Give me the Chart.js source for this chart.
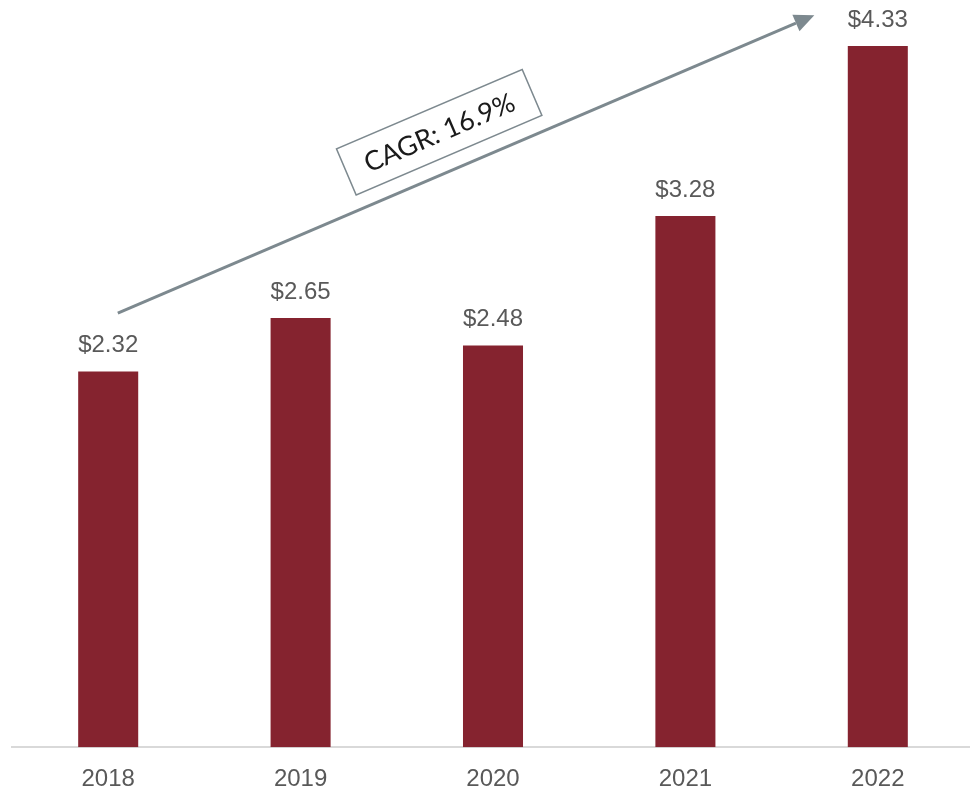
<!DOCTYPE html>
<html>
<head>
<meta charset="utf-8">
<title>Revenue 2018-2022</title>
<script src="https://cdn.jsdelivr.net/npm/chart.js@4/dist/chart.umd.min.js"></script>
<style>
  html, body { margin: 0; padding: 0; background: #fff; overflow: hidden; }
  #wrap { position: relative; width: 976px; height: 792px; }
</style>
</head>
<body>
<div id="wrap"><canvas id="myChart"></canvas></div>
<script>
// data
const years = ['2018', '2019', '2020', '2021', '2022'];
const values = [2.32, 2.65, 2.48, 3.28, 4.33];
const cagrText = 'CAGR: 16.9%';

// arrow endpoints as [category index, value]
const arrowFrom = [0.05, 2.68];
const arrowTo = [3.67, 4.52];

const barColor = '#85232F';
const textColor = '#595959';
const arrowColor = '#7D898F';

// value labels above bars + the CAGR arrow
const overlay = {
  id: 'overlay',
  afterDatasetsDraw(chart) {
    const ctx = chart.ctx;
    const meta = chart.getDatasetMeta(0);
    ctx.save();
    ctx.font = '24px "Liberation Sans", Arial, sans-serif';
    ctx.fillStyle = textColor;
    ctx.textAlign = 'center';
    ctx.textBaseline = 'middle';
    meta.data.forEach((bar, i) => {
      ctx.fillText('$' + values[i].toFixed(2), bar.x, bar.y - 26);
    });

    // arrow
    const xs = chart.scales.x, ys = chart.scales.y;
    const x1 = xs.getPixelForValue(arrowFrom[0]), y1 = ys.getPixelForValue(arrowFrom[1]);
    const x2 = xs.getPixelForValue(arrowTo[0]), y2 = ys.getPixelForValue(arrowTo[1]);
    const ang = Math.atan2(y2 - y1, x2 - x1);
    const headLen = 20, headW = 9;
    ctx.strokeStyle = arrowColor;
    ctx.fillStyle = arrowColor;
    ctx.lineWidth = 3;
    ctx.beginPath();
    ctx.moveTo(x1, y1);
    ctx.lineTo(x2 - Math.cos(ang) * headLen, y2 - Math.sin(ang) * headLen);
    ctx.stroke();
    ctx.translate(x2, y2);
    ctx.rotate(ang);
    ctx.beginPath();
    ctx.moveTo(0, 0);
    ctx.lineTo(-headLen, -headW);
    ctx.lineTo(-headLen, headW);
    ctx.closePath();
    ctx.fill();
    ctx.setTransform(1, 0, 0, 1, 0, 0);

    // CAGR box, along the arrow
    const t = 0.484;
    const mx = x1 + (x2 - x1) * t, my = y1 + (y2 - y1) * t;
    const off = 40;
    const cx = mx + Math.sin(ang) * off, cy = my - Math.cos(ang) * off;
    ctx.translate(cx, cy);
    ctx.rotate(ang);
    ctx.lineWidth = 1.5;
    ctx.strokeStyle = arrowColor;
    ctx.fillStyle = '#fff';
    ctx.fillRect(-101, -25, 202, 50);
    ctx.strokeRect(-101, -25, 202, 50);
    ctx.fillStyle = '#1a1a1a';
    ctx.font = '27px Lato, sans-serif';
    ctx.textAlign = 'center';
    ctx.textBaseline = 'middle';
    ctx.fillText(cagrText, 0, 1);
    ctx.restore();
  }
};

const ctx = document.getElementById('myChart').getContext('2d');
const chart = new Chart(ctx, {
  type: 'bar',
  data: {
    labels: years,
    datasets: [{
      data: values,
      backgroundColor: barColor,
      barPercentage: 0.312,
      categoryPercentage: 1
    }]
  },
  options: {
    responsive: true,
    maintainAspectRatio: false,
    animation: false,
    layout: { padding: { left: 12, right: 2, top: 0, bottom: -20 } },
    plugins: { legend: { display: false }, tooltip: { enabled: false } },
    scales: {
      x: {
        grid: { display: false, drawTicks: false },
        border: { display: true, color: '#D9D9D9', width: 2 },
        ticks: {
          color: textColor,
          padding: 18,
          font: { family: '"Liberation Sans", Arial, sans-serif', size: 24 }
        }
      },
      y: {
        display: false,
        min: 0,
        max: 4.614
      }
    }
  },
  plugins: [overlay]
});
</script>
</body>
</html>
